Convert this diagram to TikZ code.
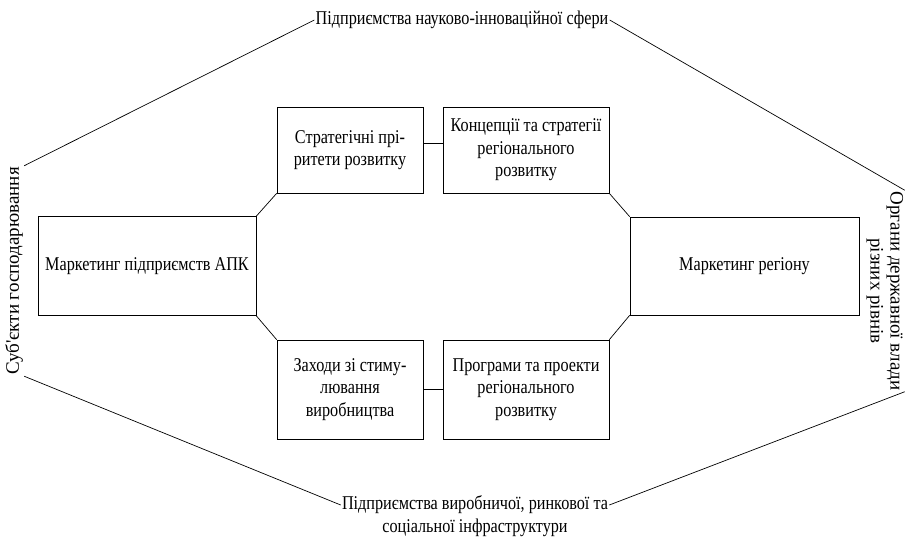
\documentclass[tikz,border=0pt]{standalone}
\usepackage{fontspec}
\setmainfont[FakeStretch=0.83]{Liberation Serif}
\newfontfamily\rotfont{Liberation Serif}
\usetikzlibrary{positioning}

\begin{document}
\begin{tikzpicture}[x=1pt,y=-1pt,line width=0.7pt,
  box/.style={draw,align=center,inner sep=2pt,font=\fontsize{19.5}{22.5}\selectfont},
  txt/.style={align=center,inner sep=1pt,font=\fontsize{19.5}{22.5}\selectfont},
  rtxt/.style={align=center,inner sep=1pt,font=\rotfont\fontsize{19}{20}\selectfont}]
             \useasboundingbox (0,0) rectangle (908,545);
             \node[box,minimum width=218pt,minimum height=99pt] (apk) at (147,266) {Маркетинг підприємств АПК};
             \node[box,minimum width=229pt,minimum height=98pt] (region) at (744.5,266) {Маркетинг регіону};
             \node[box,minimum width=146pt,minimum height=86pt] (strat) at (350,150) {Стратегічні прі-\\ритети розвитку};
             \node[box,minimum width=166pt,minimum height=86pt] (konts) at (526,150) {Концепції та стратегії\\регіонального\\розвитку};
             \node[box,minimum width=146pt,minimum height=99pt] (zakh) at (350,389.5) {Заходи зі стиму-\\лювання\\виробництва};
             \node[box,minimum width=166pt,minimum height=99pt] (progr) at (526,389.5) {Програми та проекти\\регіонального\\розвитку};
             \draw (strat.south west)--(apk.north east);
             \draw (konts.south east)--(region.north west);
             \draw (apk.south east)--(zakh.north west);
             \draw (region.south west)--(progr.north east);
             \draw ([yshift=7pt]strat.east)--([yshift=7pt]konts.west);
             \draw (zakh.east)--(progr.west);
             \node[txt] (nauk) at (462,20) {Підприємства науково-інноваційної сфери};
             \node[txt] (infra) at (475,516) {Підприємства виробничої, ринкової та\\соціальної інфраструктури};
             \node[rtxt,rotate=90] (subj) at (14,271) {Суб'єкти господарювання};
             \node[rtxt,rotate=-90] (organ) at (885,291) {Органи державної влади\\різних рівнів};
             \draw (subj.south east)--(nauk.west);
             \draw (nauk.east)--(organ.north west);
             \draw (subj.south west)--([yshift=11pt]infra.west);
             \draw ([yshift=11pt]infra.east)--(organ.north east);
           \end{tikzpicture}
\end{document}
